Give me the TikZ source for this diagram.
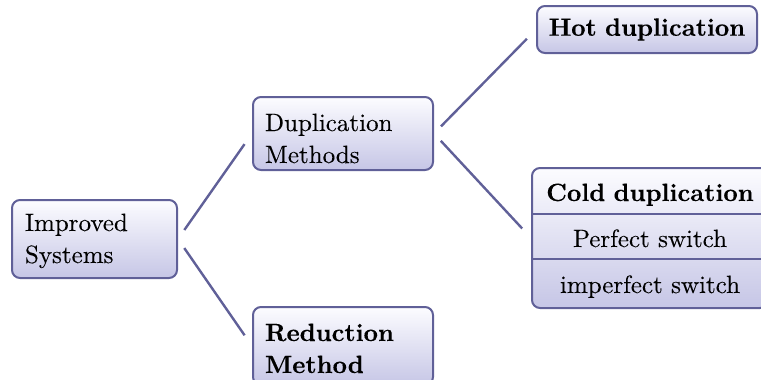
\documentclass[tikz,border=0pt]{standalone}
\usepackage{fontspec}
\setmainfont{lmroman10-regular.otf}[BoldFont=lmroman10-bold.otf, FakeBold=0.15]
\definecolor{edgeblue}{RGB}{96,96,152}
\definecolor{filltop}{RGB}{252,252,255}
\definecolor{fillbot}{RGB}{198,198,230}
\tikzset{
  box/.style={draw=edgeblue, line width=2pt, rounded corners=8pt,
    top color=filltop, bottom color=fillbot, inner ysep=0pt,
    font=\fontsize{25}{32}\selectfont, text height=17.35pt},
  leftbox/.style={box, align=left},
  midbox/.style={box, align=center},
  conn/.style={draw=edgeblue, line width=2.4pt, shorten <=11pt, shorten >=13pt},
  divider/.style={draw=edgeblue, line width=1.6pt},
}
\begin{document}
\begin{tikzpicture}[x=1pt,y=-1pt]
  \useasboundingbox (0,0) rectangle (761,380);
  \clip (0,0) rectangle (761,380);

  % root
  \node[leftbox, inner xsep=13pt, text width=139pt, minimum height=78pt,
        text depth=33.35pt] (imp) at (94.5,239)
        {Improved\\Systems};

  % second level
  \node[leftbox, inner xsep=12pt, text width=156pt, minimum height=73pt,
        text depth=22.35pt] (dup) at (343,133.5)
        {Duplication\\Methods};
  \node[leftbox, inner xsep=12pt, text width=156pt, minimum height=78pt,
        text depth=27.35pt] (red) at (343,346)
        {{\bfseries Reduction}\\{\bfseries Method}};

  % third level
  \node[midbox, inner xsep=0pt, text width=220pt, minimum height=47pt,
        text depth=4.85pt] (hot) at (647,29.5)
        {\bfseries Hot duplication};
  \node[midbox, inner xsep=0pt, text width=236pt, minimum height=140pt,
        font=\fontsize{25}{46}\selectfont, text depth=91.35pt] (cold) at (650,238)
        {{\bfseries Cold duplication}\\Perfect switch\\imperfect switch};
  \draw[divider] ([yshift=-21pt]cold.west) -- ([yshift=-21pt]cold.east);
  \draw[divider] ([yshift=24pt]cold.west) -- ([yshift=24pt]cold.east);

  % connectors
  \draw[conn] (imp.east) -- (dup.west);
  \draw[conn] (imp.east) -- (red.west);
  \draw[conn, shorten <=10pt] (dup.east) -- (hot.west);
  \draw[conn, shorten <=10pt] (dup.east) -- (cold.west);
\end{tikzpicture}
\end{document}
